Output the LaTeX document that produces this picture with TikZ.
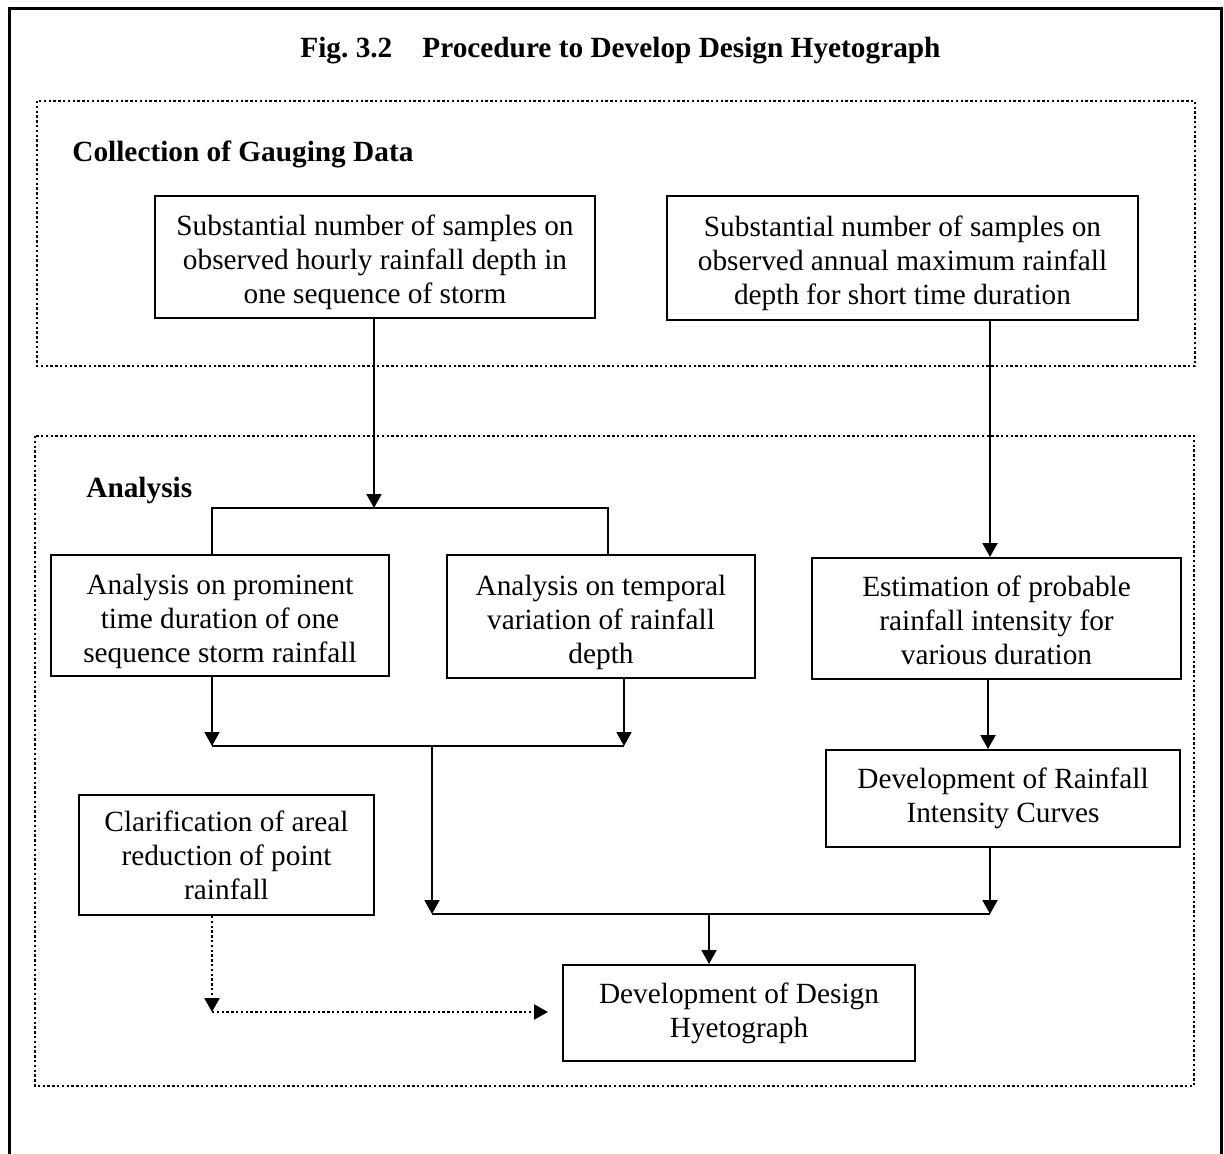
\documentclass[tikz,border=0pt]{standalone}
\usepackage{fontspec}
\setmainfont{Liberation Serif}
\usetikzlibrary{arrows.meta}
\newcommand{\tstrut}[1]{\rule{0pt}{#1}}
\begin{document}
\begin{tikzpicture}[x=0.5pt,y=-0.5pt,
  box/.style={draw,line width=1pt,rectangle,inner sep=0pt,align=center,font=\fontsize{14.65}{17}\selectfont},
  lbl/.style={anchor=base west,inner sep=0pt,font=\fontsize{14.65}{17}\selectfont\bfseries},
  dotbox/.style={line width=1.2pt,dash pattern=on 1.2pt off 1.2pt},
  ln/.style={line width=1pt},
  arr/.style={line width=1pt,-{Triangle[length=7pt,width=7.5pt]}},
  darr/.style={line width=1.2pt,dash pattern=on 1.2pt off 1.2pt,-{Triangle[length=7pt,width=7.5pt]}}]
\path[use as bounding box,fill=white] (0,0) rectangle (1224,1154);
% outer frame (open at bottom)
\draw[line width=1.5pt] (9,1154) -- (9,9) -- (1221,9) -- (1221,1154);
% title
\node[lbl] (title) at (300,58) {Fig.\ 3.2\hspace{15pt}Procedure to Develop Design Hyetograph};
% dotted group frames
\draw[dotbox] (37,101) rectangle (1195,366);
\draw[dotbox] (35,436) rectangle (1194,1086);
\node[lbl] (coll) at (72,162) {Collection of Gauging Data};
\node[lbl] (anal) at (86,497) {Analysis};
% boxes (sizes in pt = half of pixel size)
\node[box,minimum width=220pt,minimum height=61pt] (A) at (375,257)
  {\tstrut{16pt}Substantial number of samples on\\observed hourly rainfall depth in\\one sequence of storm};
\node[box,minimum width=235.5pt,minimum height=62pt] (B) at (902.5,258)
  {\tstrut{16pt}Substantial number of samples on\\observed annual maximum rainfall\\depth for short time duration};
\node[box,minimum width=169pt,minimum height=60.5pt] (C) at (220,615.5)
  {\tstrut{16pt}Analysis on prominent\\time duration of one\\sequence storm rainfall};
\node[box,minimum width=154pt,minimum height=61.5pt] (D) at (601,616.5)
  {\tstrut{16pt}Analysis on temporal\\variation of rainfall\\depth};
\node[box,minimum width=184.5pt,minimum height=60.5pt] (E) at (996.5,618.5)
  {\tstrut{12pt}Estimation of probable\\rainfall intensity for\\various duration};
\node[box,minimum width=177pt,minimum height=48.5pt] (F) at (1003,798.5)
  {Development of Rainfall\\Intensity Curves};
\node[box,minimum width=147.5pt,minimum height=60pt] (H) at (226.5,855)
  {Clarification of areal\\reduction of point\\rainfall};
\node[box,minimum width=176pt,minimum height=48pt] (G) at (739,1013)
  {Development of Design\\Hyetograph};
% junction coordinates
\coordinate (vA) at (374,508);
\coordinate (bL) at (212,508);
\coordinate (bR) at (608,508);
\coordinate (vB) at (990,0);
\coordinate (vE) at (988,0);
\coordinate (mL) at (212,746);
\coordinate (mR) at (624,746);
\coordinate (mC) at (432,746);
\coordinate (nL) at (432,914);
\coordinate (nR) at (990,914);
\coordinate (nC) at (709,914);
\coordinate (dC) at (212,1012);
\coordinate (dE) at (548,1012);
% connectors
\draw[arr] (A.south -| vA) -- (vA);
\draw[ln] (bL |- C.north) -- (bL) -- (bR) -- (bR |- D.north);
\draw[arr] (B.south -| vB) -- (E.north -| vB);
\draw[arr] (C.south -| mL) -- (mL);
\draw[arr] (D.south -| mR) -- (mR);
\draw[ln] (mL) -- (mR);
\draw[arr] (mC) -- (nL);
\draw[arr] (E.south -| vE) -- (F.north -| vE);
\draw[arr] (F.south -| nR) -- (nR);
\draw[ln] (nL) -- (nR);
\draw[arr] (nC) -- (G.north -| nC);
\draw[darr] (H.south -| dC) -- (dC);
\draw[darr] (dC) -- (dE);
\end{tikzpicture}
\end{document}
